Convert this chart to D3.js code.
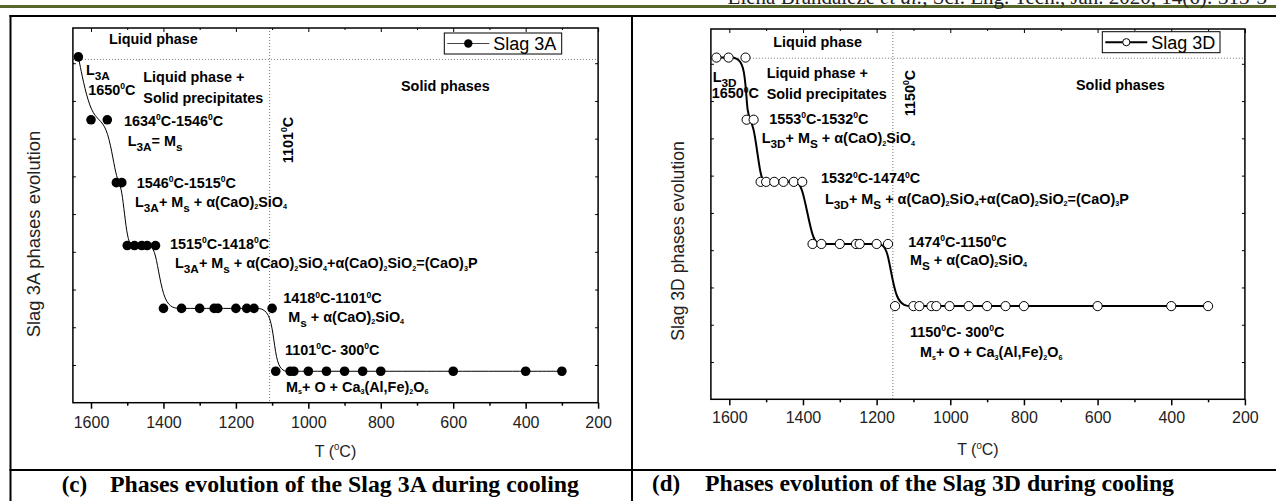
<!DOCTYPE html>
<html><head><meta charset="utf-8">
<script src="https://cdn.jsdelivr.net/npm/d3@7"></script>
<style>body{margin:0;background:#fff}svg{display:block}</style>
</head><body>
<svg id="c" width="1276" height="501"></svg>
<script>
// ---------- data ----------
const temp3A  = [1635,1600,1555,1530,1515,1500,1480,1460,1445,1422,1400,1350,1300,1260,1250,1200,1170,1150,1100,1090,1050,1040,1000,950,900,850,800,600,400,300];
const phase3A = [6,5,5,4,4,3,3,3,3,3,2,2,2,2,2,2,2,2,2,1,1,1,1,1,1,1,1,1,1,1];
const temp3D  = [1635,1602,1556,1553,1534,1515,1500,1478,1453,1425,1402,1374,1350,1300,1256,1246,1200,1169,1150,1100,1084,1051,1038,1002,950,900,850,800,600,400,300];
const phase3D = [6,6,6,5,5,4,4,4,4,4,4,3,3,3,3,3,3,3,2,2,2,2,2,2,2,2,2,2,2,2,2];
const xTickValues  = [1600,1400,1200,1000,800,600,400,200];
const xMinorValues = [1500,1300,1100,900,700,500,300];
const yTickValues  = [1.1,1.7,2.3,2.9,3.5,4.1,4.7,5.3,5.9];
const xDomain = [1650,200];
const yDomain = [0.5,6.46];

const svg = d3.select('#c');
const SANS = 'Liberation Sans, Arial, sans-serif';
const SERIF = 'Liberation Serif, Times New Roman, serif';

// ---------- page frame ----------
svg.append('rect').attr('x',0).attr('y',5).attr('width',1276).attr('height',3).attr('fill','#56662c');
svg.append('text').attr('x',727.6).attr('y',3.5).attr('font-family',SERIF).attr('font-size',21)
  .attr('fill','#222')
  .html('Elena Brandaleze <tspan font-style="italic">et al.</tspan>, Sci. Eng. Tech., Jan. 2020, 14(6): 313-3');
const frame = svg.append('g').attr('stroke','#000').attr('stroke-width',2);
frame.append('line').attr('x1',9.5).attr('x2',1276).attr('y1',16).attr('y2',16);
frame.append('line').attr('x1',10.5).attr('x2',10.5).attr('y1',15).attr('y2',501);
frame.append('line').attr('x1',632).attr('x2',632).attr('y1',15).attr('y2',501);
frame.append('line').attr('x1',9.5).attr('x2',1276).attr('y1',470).attr('y2',470);

// ---------- rich text helper ----------
function rich(sel, x, y, str, size, opts={}) {
  const t = sel.append('text').attr('x',x).attr('y',y)
    .attr('font-family',SANS).attr('font-size',size)
    .attr('font-weight',opts.weight||'bold').attr('fill','#000');
  if (opts.anchor) t.attr('text-anchor',opts.anchor);
  if (opts.rotate) t.attr('transform',`rotate(${opts.rotate},${x},${y})`);
  const re = /\{([\^_.])([^}]*)\}|([^{]+)/g;
  let m, shift = 0;
  while ((m = re.exec(str)) !== null) {
    let txt, fs, s;
    if (m[3] !== undefined) { txt = m[3]; fs = size; s = 0; }
    else if (m[1] === '^') { txt = m[2]; fs = size*0.6; s = -size*0.4; }
    else if (m[1] === '_') { txt = m[2]; fs = size*0.82; s = size*0.36; }
    else { txt = m[2]; fs = size*0.5; s = size*0.16; }
    t.append('tspan').attr('font-size',fs).attr('dy',s-shift).text(txt);
    shift = s;
  }
  return t;
}

// ---------- panel ----------
function panel(cfg) {
  const x = d3.scaleLinear().domain(xDomain).range([cfg.l, cfg.r]);
  const y = d3.scaleLinear().domain(yDomain).range([cfg.b, cfg.t]);
  const g = svg.append('g');
  g.append('line').attr('x1',x(cfg.boundary)).attr('x2',x(cfg.boundary))
    .attr('y1',cfg.t).attr('y2',cfg.b).attr('stroke','#777').attr('stroke-width',1).attr('stroke-dasharray','1,2');
  g.append('line').attr('x1',cfg.l).attr('x2',cfg.r)
    .attr('y1',y(cfg.liquid)).attr('y2',y(cfg.liquid)).attr('stroke','#777').attr('stroke-width',1).attr('stroke-dasharray','1,2');
  const pts = cfg.temps.map((t,i)=>({t, p:cfg.phases[i]}));
  const line = d3.line().x(d=>x(d.t)).y(d=>y(d.p)).curve(d3.curveBasis);
  g.append('path').datum(pts).attr('d',line).attr('fill','none').attr('stroke','#000').attr('stroke-width',cfg.lw);
  g.selectAll('circle.pt').data(pts).join('circle').attr('class','pt')
    .attr('cx',d=>x(d.t)).attr('cy',d=>y(d.p)).attr('r',cfg.r0)
    .attr('fill',cfg.filled?'#000':'#fff').attr('stroke','#000').attr('stroke-width',cfg.filled?0:1);
  g.append('rect').attr('x',cfg.l).attr('y',cfg.t).attr('width',cfg.r-cfg.l).attr('height',cfg.b-cfg.t)
    .attr('fill','none').attr('stroke','#000').attr('stroke-width',1.5);
  const ax = g.append('g').attr('transform',`translate(0,${cfg.b})`)
    .call(d3.axisBottom(x).tickValues(xTickValues).tickSize(6).tickPadding(cfg.pad).tickFormat(d3.format('d')));
  ax.select('.domain').remove();
  ax.selectAll('line').attr('stroke-width',1.5);
  ax.selectAll('text').attr('font-family',SANS).attr('font-size',16).attr('fill','#222');
  const axm = g.append('g').attr('transform',`translate(0,${cfg.b})`)
    .call(d3.axisBottom(x).tickValues(xMinorValues).tickSize(3).tickFormat(''));
  axm.select('.domain').remove();
  axm.selectAll('line').attr('stroke-width',1.5);
  // top ticks (inward)
  const at = g.append('g').attr('transform',`translate(0,${cfg.t})`)
    .call(d3.axisBottom(x).tickValues(xTickValues).tickSize(4).tickFormat(''));
  at.select('.domain').remove();
  const atm = g.append('g').attr('transform',`translate(0,${cfg.t})`)
    .call(d3.axisBottom(x).tickValues(xMinorValues).tickSize(2).tickFormat(''));
  atm.select('.domain').remove();
  const ayl = g.append('g').attr('transform',`translate(${cfg.l},0)`)
    .call(d3.axisRight(y).tickValues(yTickValues).tickSize(3).tickFormat(''));
  ayl.select('.domain').remove();
  const ayr = g.append('g').attr('transform',`translate(${cfg.r},0)`)
    .call(d3.axisLeft(y).tickValues(yTickValues).tickSize(3).tickFormat(''));
  ayr.select('.domain').remove();
  rich(g, (cfg.l+cfg.r)/2, cfg.xtY, 'T ({^0}C)', 16, {weight:'normal', anchor:'middle'}).attr('fill','#222');
  rich(g, cfg.ytX, cfg.ytY, cfg.ytitle, cfg.ytSize, {weight:'normal', anchor:'middle', rotate:-90}).attr('fill','#222');
  const L = cfg.legend;
  g.append('rect').attr('x',L.x).attr('y',L.y).attr('width',L.w).attr('height',L.h)
    .attr('fill','#fff').attr('stroke','#000').attr('stroke-width',1);
  g.append('line').attr('x1',L.x+3).attr('x2',L.x+45).attr('y1',L.y+L.h/2).attr('y2',L.y+L.h/2)
    .attr('stroke',cfg.filled?'#444':'#000').attr('stroke-width',cfg.lw);
  g.append('circle').attr('cx',L.x+24).attr('cy',L.y+L.h/2).attr('r',cfg.filled?4.2:3.6)
    .attr('fill',cfg.filled?'#000':'#fff').attr('stroke','#000').attr('stroke-width',cfg.filled?0:1);
  g.append('text').attr('x',L.x+49).attr('y',L.y+L.h-4).attr('font-family',SANS).attr('font-size',18)
    .text(cfg.name);
  cfg.notes.forEach(n => rich(g, n[0], n[1], n[2], 14.4, n[3]||{}));
  svg.append('text').attr('x',cfg.capX).attr('y',cfg.capY).attr('font-family',SERIF).attr('font-weight','bold')
    .attr('font-size',23).text(cfg.capLetter);
  svg.append('text').attr('x',cfg.capX2).attr('y',cfg.capY).attr('font-family',SERIF).attr('font-weight','bold')
    .attr('font-size',22.5).attr('textLength',469).attr('lengthAdjust','spacingAndGlyphs').text(cfg.caption);
}

panel({
  l:72.9, r:598.1, t:28, b:402.7, pad:8.2, xtY:456.7, ytX:40, ytY:234, ytSize:18.4,
  ytitle:'Slag 3A phases evolution', name:'Slag 3A',
  temps:temp3A, phases:phase3A, boundary:1107, liquid:5.96, lw:1, r0:4.8, filled:true,
  legend:{x:444.3, y:33, w:117.4, h:21},
  capX:61.7, capX2:110, capY:491.7, capLetter:'(c)', caption:'Phases evolution of the Slag 3A during cooling',
  notes:[
    [109,43.5,'Liquid phase'],
    [86,75,'L{_3A}'],
    [88.3,95,'1650{^0}C'],
    [143.3,81.7,'Liquid phase +'],
    [143.3,103.3,'Solid precipitates'],
    [124,126,'1634{^0}C-1546{^0}C'],
    [127.7,146,'L{_3A}= M{_s}'],
    [136.7,187.7,'1546{^0}C-1515{^0}C'],
    [135,206.7,'L{_3A}+ M{_s} + α(CaO){.2}SiO{.4}'],
    [170,248.5,'1515{^0}C-1418{^0}C'],
    [175,268.3,'L{_3A}+ M{_s} + α(CaO){.2}SiO{.4}+α(CaO){.2}SiO{.2}=(CaO){.3}P'],
    [283.3,303.3,'1418{^0}C-1101{^0}C'],
    [288.3,321.7,'M{_s} + α(CaO){.2}SiO{.4}'],
    [285,355,'1101{^0}C- 300{^0}C'],
    [286,391.7,'M{.s}+ O + Ca{.3}(Al,Fe){.2}O{.6}'],
    [401,90.7,'Solid phases'],
    [293,140,'1101{^0}C',{anchor:'middle',rotate:-90}]
  ]
});

panel({
  l:710.9, r:1244.9, t:29, b:399.3, pad:6.6, xtY:455, ytX:683.6, ytY:241, ytSize:17.6,
  ytitle:'Slag 3D phases evolution', name:'Slag 3D',
  temps:temp3D, phases:phase3D, boundary:1156, liquid:5.99, lw:2, r0:4.6, filled:false,
  legend:{x:1102.3, y:31.7, w:117.7, h:21},
  capX:652, capX2:705, capY:490.5, capLetter:'(d)', caption:'Phases evolution of the Slag 3D during cooling',
  notes:[
    [773.3,47.3,'Liquid phase'],
    [712.7,81.7,'L{_3D}'],
    [711.7,98.3,'1650{^0}C'],
    [766.7,77.7,'Liquid phase +'],
    [766.7,99.3,'Solid precipitates'],
    [769.3,124,'1553{^0}C-1532{^0}C'],
    [761.7,143.3,'L{_3D}+ M{_S} + α(CaO){.2}SiO{.4}'],
    [821,183.3,'1532{^0}C-1474{^0}C'],
    [825,204,'L{_3D}+ M{_S} + α(CaO){.2}SiO{.4}+α(CaO){.2}SiO{.2}=(CaO){.3}P'],
    [908.3,247,'1474{^0}C-1150{^0}C'],
    [910,265,'M{_S} + α(CaO){.2}SiO{.4}'],
    [910,336.7,'1150{^0}C- 300{^0}C'],
    [920,357.3,'M{.s}+ O + Ca{.3}(Al,Fe){.2}O{.6}'],
    [1076,90,'Solid phases'],
    [915,93,'1150{^0}C',{anchor:'middle',rotate:-90}]
  ]
});
</script>
</body></html>
